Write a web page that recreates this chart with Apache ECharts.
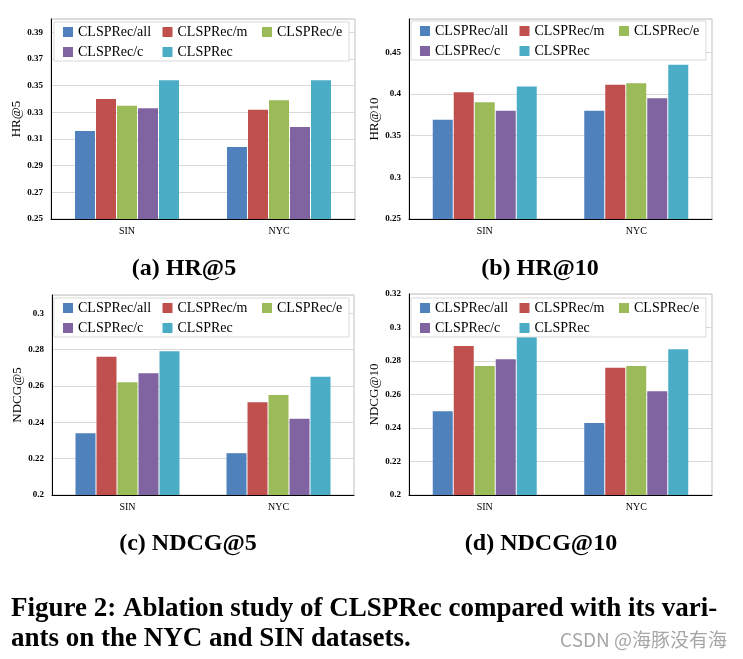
<!DOCTYPE html>
<html><head><meta charset="utf-8">
<script src="https://cdn.jsdelivr.net/npm/echarts@6/dist/echarts.min.js"></script>
<style>html,body{margin:0;padding:0;background:#fff}#c{width:743px;height:659px}</style>
</head><body><div id="c"></div>
<script>
// ---- data ----
const categories = ['SIN', 'NYC'];
const seriesNames = ['CLSPRec/all', 'CLSPRec/m', 'CLSPRec/e', 'CLSPRec/c', 'CLSPRec'];
// values per variant (order of seriesNames)
const hr5_SIN    = [0.316, 0.340, 0.335, 0.333, 0.354];
const hr5_NYC    = [0.304, 0.332, 0.339, 0.319, 0.354];
const hr10_SIN   = [0.369, 0.402, 0.390, 0.380, 0.409];
const hr10_NYC   = [0.380, 0.411, 0.413, 0.395, 0.435];
const ndcg5_SIN  = [0.234, 0.276, 0.262, 0.267, 0.279];
const ndcg5_NYC  = [0.223, 0.251, 0.255, 0.242, 0.265];
const ndcg10_SIN = [0.250, 0.289, 0.277, 0.281, 0.295];
const ndcg10_NYC = [0.243, 0.276, 0.277, 0.262, 0.287];
const axisTitles = ['HR@5', 'HR@10', 'NDCG@5', 'NDCG@10'];
const subCaptions = ['(a) HR@5', '(b) HR@10', '(c) NDCG@5', '(d) NDCG@10'];
const captionLines = ['Figure 2: Ablation study of CLSPRec compared with its vari-',
                      'ants on the NYC and SIN datasets.'];
const watermark = 'CSDN @海豚没有海';

// ---- styling / layout ----
const colors = ['#4F81BD', '#C0504D', '#9BBB59', '#8064A2', '#4BACC6'];
const SERIF = '"Liberation Serif", "Times New Roman", serif';
const panels = [
  {data: [hr5_SIN, hr5_NYC],     grid: {left: 51, top: 19, width: 304, height: 200}, y: {min: 0.25, max: 0.40, interval: 0.02, showMax: false}, leg: {left: 54, top: 22}, nameGap: 27, cap: {x: 184, y: 269}},
  {data: [hr10_SIN, hr10_NYC],   grid: {left: 409, top: 19, width: 303, height: 200}, y: {min: 0.25, max: 0.49, interval: 0.05, showMax: false}, leg: {left: 411, top: 21}, nameGap: 28, cap: {x: 540, y: 269}},
  {data: [ndcg5_SIN, ndcg5_NYC], grid: {left: 52, top: 295, width: 302, height: 200}, y: {min: 0.20, max: 0.31, interval: 0.02, showMax: false}, leg: {left: 54, top: 298}, nameGap: 28, cap: {x: 188, y: 544}},
  {data: [ndcg10_SIN, ndcg10_NYC], grid: {left: 409, top: 294, width: 303, height: 201}, y: {min: 0.20, max: 0.32, interval: 0.02, showMax: true}, leg: {left: 411, top: 298}, nameGap: 27, cap: {x: 541, y: 544}}
];
const colTextW = [80.5, 80.5, 72, 80.5, 80.5];

const option = {
  backgroundColor: '#fff',
  animation: false,
  grid: [], xAxis: [], yAxis: [], series: [], legend: [], graphic: []
};

panels.forEach((p, pi) => {
  option.grid.push(Object.assign({show: true, borderColor: '#bfbfbf', borderWidth: 1, backgroundColor: 'transparent'}, p.grid));
  option.xAxis.push({
    type: 'category', gridIndex: pi, data: categories,
    axisLine: {lineStyle: {color: '#000', width: 1}},
    axisTick: {show: false},
    axisLabel: {fontFamily: SERIF, fontSize: 10, color: '#000', margin: 7}
  });
  option.yAxis.push({
    type: 'value', gridIndex: pi, min: p.y.min, max: p.y.max, interval: p.y.interval,
    name: axisTitles[pi], nameLocation: 'middle', nameGap: p.nameGap,
    nameTextStyle: {fontFamily: SERIF, fontSize: 13, color: '#000'},
    axisLine: {show: true, lineStyle: {color: '#000', width: 1}},
    axisTick: {show: false},
    axisLabel: {fontFamily: SERIF, fontSize: 9, fontWeight: 'bold', color: '#000', margin: 8, showMaxLabel: p.y.showMax},
    splitLine: {show: true, lineStyle: {color: '#d9d9d9', width: 1}}
  });
  seriesNames.forEach((name, si) => {
    option.series.push({
      type: 'bar', name: name, xAxisIndex: pi, yAxisIndex: pi,
      data: [p.data[0][si], p.data[1][si]],
      barWidth: 20, barGap: '5%',
      itemStyle: {color: colors[si]}
    });
  });
  option.legend.push({
    left: p.leg.left, top: p.leg.top,
    orient: 'horizontal', width: 300,
    itemWidth: 10, itemHeight: 10, itemGap: 4,
    padding: [2, 0, 1, 9],
    backgroundColor: '#fff', borderColor: '#d9d9d9', borderWidth: 1,
    icon: 'rect',
    textStyle: {fontFamily: SERIF, fontSize: 14, color: '#000', lineHeight: 16},
    data: seriesNames.map((n, i) => ({name: n, textStyle: {width: colTextW[i], overflow: 'none'}}))
  });
  option.graphic.push({
    type: 'text', x: p.cap.x, y: p.cap.y,
    style: {text: subCaptions[pi], font: 'bold 24px ' + SERIF, fill: '#000', textAlign: 'center', textVerticalAlign: 'middle'}
  });
});

captionLines.forEach((t, i) => {
  option.graphic.push({
    type: 'text', x: 11, y: 609 + i * 30,
    style: {text: t, font: 'bold 27px ' + SERIF, fill: '#000', textAlign: 'left', textVerticalAlign: 'middle'}
  });
});
option.graphic.push({
  type: 'text', x: 727, y: 640,
  style: {text: watermark, font: '19px "Noto Sans CJK SC", sans-serif', fill: '#a6a6a6', textAlign: 'right', textVerticalAlign: 'middle'}
});

const chart = echarts.init(document.getElementById('c'), null, {renderer: 'canvas'});
chart.setOption(option);
</script>
</body></html>
